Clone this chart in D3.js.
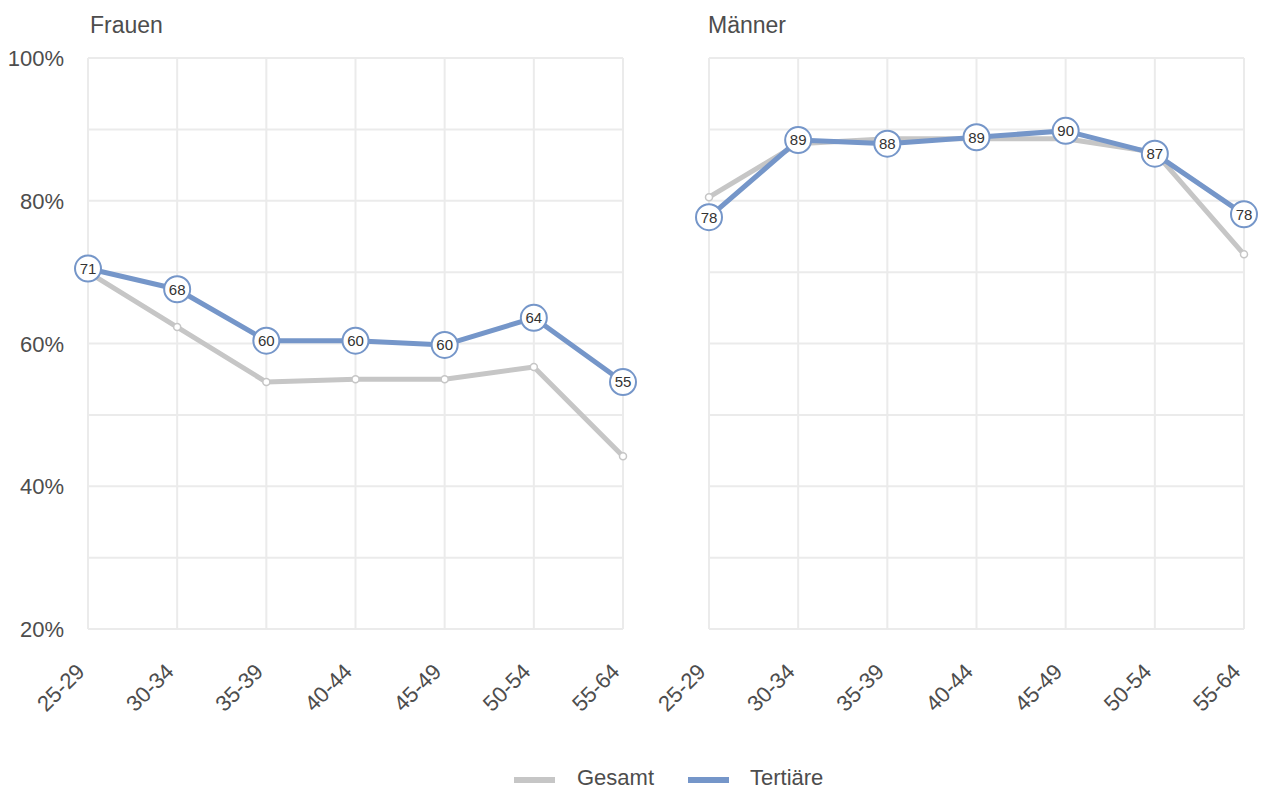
<!DOCTYPE html>
<html><head><meta charset="utf-8">
<script src="https://cdn.jsdelivr.net/npm/d3@7"></script>
<style>body{margin:0;background:#fff}svg{display:block;font-family:"Liberation Sans",Arial,Helvetica,sans-serif}</style>
</head><body><svg id="c" width="1262" height="789"></svg>
<script>
const categories = ["25-29","30-34","35-39","40-44","45-49","50-54","55-64"];
const panels = ["Frauen","Männer"];
const seriesNames = ["Gesamt","Tertiäre"];
const frauenGesamt   = [70.0, 62.3, 54.6, 55.0, 55.0, 56.7, 44.2];
const frauenTertiaer = [70.5, 67.6, 60.4, 60.4, 59.8, 63.6, 54.6];
const maennerGesamt   = [80.5, 88.0, 88.7, 88.7, 88.7, 86.8, 72.5];
const maennerTertiaer = [77.7, 88.5, 88.0, 88.9, 89.8, 86.6, 78.1];
const yTicks = [20, 40, 60, 80, 100];
const yGrid = [20,30,40,50,60,70,80,90,100];

const colors = {Gesamt:"#c6c6c6", "Tertiäre":"#7596c9"};
const svg = d3.select("#c");
const y = d3.scaleLinear().domain([20,100]).range([629,58]);
const panelX = [[88,623],[709,1244]];
const titleX = [90,708];
const data = [[frauenGesamt, frauenTertiaer],[maennerGesamt, maennerTertiaer]];
const textCol = "#4d4d4d";

panels.forEach((p,i)=>{
  const x = d3.scalePoint().domain(categories).range(panelX[i]);
  const g = svg.append("g");
  g.selectAll(".hg").data(yGrid).join("line")
    .attr("x1",panelX[i][0]).attr("x2",panelX[i][1])
    .attr("y1",d=>y(d)).attr("y2",d=>y(d))
    .attr("stroke","#ebebeb").attr("stroke-width",2);
  g.selectAll(".vg").data(categories).join("line")
    .attr("x1",d=>x(d)).attr("x2",d=>x(d))
    .attr("y1",y(20)).attr("y2",y(100))
    .attr("stroke","#ebebeb").attr("stroke-width",2);
  g.append("text").attr("x",titleX[i]).attr("y",33).text(p)
    .attr("fill",textCol).style("font-size","23px");
  if(i===0){
    g.selectAll(".yl").data(yTicks).join("text")
      .attr("x",64).attr("y",d=>y(d)+8).attr("text-anchor","end")
      .attr("fill",textCol).style("font-size","22px").text(d=>d+"%");
  }
  g.selectAll(".xl").data(categories).join("text")
    .attr("transform",d=>`translate(${x(d)-2},${673}) rotate(-45)`)
    .attr("text-anchor","end").attr("fill",textCol).style("font-size","22px").text(d=>d);
  const line = d3.line().x((d,j)=>x(categories[j])).y(d=>y(d));
  const [ges, ter] = data[i];
  g.append("path").datum(ges).attr("d",line).attr("fill","none")
    .attr("stroke",colors.Gesamt).attr("stroke-width",5).attr("stroke-linejoin","round");
  g.selectAll(".gp").data(ges).join("circle")
    .attr("cx",(d,j)=>x(categories[j])).attr("cy",d=>y(d)).attr("r",3.5)
    .attr("fill","#fff").attr("stroke",colors.Gesamt).attr("stroke-width",1.5);
  g.append("path").datum(ter).attr("d",line).attr("fill","none")
    .attr("stroke",colors["Tertiäre"]).attr("stroke-width",5).attr("stroke-linejoin","round");
  const lg = g.selectAll(".tp").data(ter).join("g")
    .attr("transform",(d,j)=>`translate(${x(categories[j])},${y(d)})`);
  lg.append("circle").attr("r",13).attr("fill","#fff")
    .attr("stroke",colors["Tertiäre"]).attr("stroke-width",2);
  lg.append("text").attr("text-anchor","middle").attr("dy","0.36em")
    .attr("fill","#333").style("font-size","15px").text(d=>Math.round(d));
});

const leg = svg.append("g");
const legX = [[514,577],[688,750]];
seriesNames.forEach((s,i)=>{
  leg.append("line").attr("x1",legX[i][0]).attr("x2",legX[i][0]+41)
    .attr("y1",780).attr("y2",780).attr("stroke",colors[s]).attr("stroke-width",6);
  leg.append("text").attr("x",legX[i][1]).attr("y",785).attr("fill",textCol)
    .style("font-size","22px").text(s);
});
</script></body></html>
